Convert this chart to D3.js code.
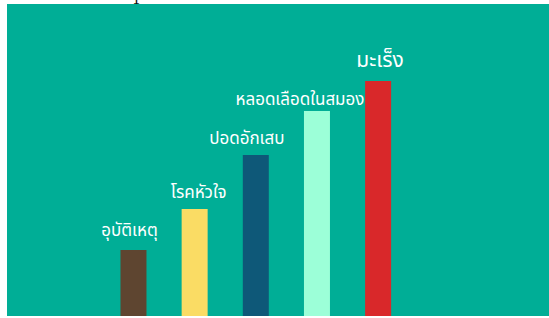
<!DOCTYPE html>
<html>
<head>
<meta charset="utf-8">
<script src="https://cdn.jsdelivr.net/npm/d3@7"></script>
<style>
  html, body { margin: 0; padding: 0; background: #ffffff; }
  svg { display: block; }
</style>
</head>
<body>
<svg id="chart" width="549" height="318"></svg>
<script>
// ---- data ----
const categories = ["อุบัติเหตุ", "โรคหัวใจ", "ปอดอักเสบ", "หลอดเลือดในสมอง", "มะเร็ง"];
const values = [66, 107, 161, 205, 235];
const barColors = ["#5e4530", "#fadc64", "#0e5878", "#9cffd8", "#d9282a"];
// label layout tweaks (dx from bar centre, gap above bar top)
const labelDx = [-4, 4, -9, -17, 2];
const labelGap = [14, 11, 11.5, 6, 14];

const svg = d3.select("#chart");
const panel = { x0: 7, y0: 4, x1: 549, y1: 316 };

svg.append("rect")
  .attr("x", panel.x0).attr("y", panel.y0)
  .attr("width", panel.x1 - panel.x0).attr("height", panel.y1 - panel.y0)
  .attr("fill", "#00ae96");

// stray glyph cut at top edge (as in the reference)
svg.append("text")
  .attr("x", 136.5).attr("y", 3.5)
  .attr("text-anchor", "middle")
  .attr("font-family", "DejaVu Serif, serif")
  .attr("font-size", 14)
  .attr("fill", "#111")
  .text("1");

const x = d3.scaleBand()
  .domain(categories)
  .range([102.9, 408.7])
  .paddingInner(0.575)
  .paddingOuter(0.2875);

const y = d3.scaleLinear()
  .domain([0, 235])
  .range([panel.y1, 81]);

const g = svg.append("g");

g.selectAll("rect.bar")
  .data(categories)
  .join("rect")
  .attr("class", "bar")
  .attr("x", d => x(d))
  .attr("y", (d, i) => y(values[i]))
  .attr("width", x.bandwidth())
  .attr("height", (d, i) => y(0) - y(values[i]))
  .attr("fill", (d, i) => barColors[i]);

g.selectAll("text.lbl")
  .data(categories)
  .join("text")
  .attr("class", "lbl")
  .attr("x", (d, i) => x(d) + x.bandwidth() / 2 + labelDx[i])
  .attr("y", (d, i) => y(values[i]) - labelGap[i])
  .attr("text-anchor", "middle")
  .attr("font-family", "'Noto Sans Thai', 'Noto Sans', sans-serif")
  .attr("font-size", (d, i) => i === 4 ? 21 : 17)
  .attr("fill", "#ffffff")
  .text(d => d);
</script>
</body>
</html>
